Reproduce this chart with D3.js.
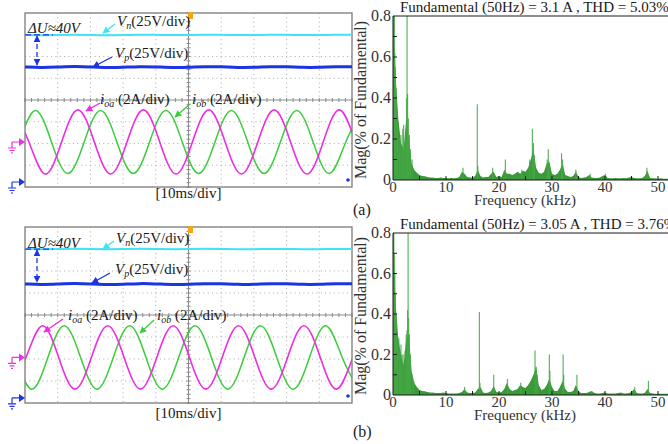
<!DOCTYPE html>
<html>
<head>
<meta charset="utf-8">
<script src="https://d3js.org/d3.v7.min.js"></script>
<style>
  body { margin: 0; background: #ffffff; }
  svg { display: block; font-family: "Liberation Serif", "Times New Roman", serif; }
</style>
</head>
<body>
<svg id="fig" width="668" height="444"></svg>
<script>
// ---- scope data (time in ms, voltages in V, currents in A) ----
var scopeTimes = [0,5,10,15,20,25,30,35,40,45,50,55,60,65,70,75,80,85,90,95,100];
var vnA = [169.0,168.7,169.1,169.4,169.1,168.7,169.0,169.4,169.2,168.8,169.0,169.3,169.2,168.8,168.9,169.3,169.2,168.8,168.9,169.3,169.2];
var vpA = [132.2,131.4,132.0,132.9,132.3,131.3,131.8,132.8,132.4,131.4,131.7,132.7,132.5,131.5,131.7,132.6,132.6,131.6,131.7,132.5,132.5];
var vnB = [169.2,168.9,169.3,169.5,169.2,168.9,169.1,169.5,169.3,168.9,169.1,169.5,169.3,168.9,169.0,169.4,169.3,168.9,169.0,169.4,169.3];
var vpB = [129.5,128.8,129.4,130.2,129.6,128.7,129.2,130.1,129.7,128.8,129.1,130.0,129.8,128.9,129.1,130.0,129.8,128.9,129.0,129.9,129.8];

// peaks, troughs and zero crossings: [ms, A]
var ioaA = [[-3.8,2.95],[1.2,0],[6.2,-2.95],[11.2,0],[16.2,2.95],[21.2,0],[26.2,-2.95],[31.2,0],[36.2,2.95],[41.2,0],[46.2,-2.95],[51.2,0],[56.2,2.95],[61.2,0],[66.2,-2.95],[71.2,0],[76.2,2.95],[81.2,0],[86.2,-2.95],[91.2,0],[96.2,2.95],[101.2,0],[106.2,-2.95]];
var iobA = [[-6.9,-2.9],[-1.9,0],[3.1,2.9],[8.1,0],[13.1,-2.9],[18.1,0],[23.1,2.9],[28.1,0],[33.1,-2.9],[38.1,0],[43.1,2.9],[48.1,0],[53.1,-2.9],[58.1,0],[63.1,2.9],[68.1,0],[73.1,-2.9],[78.1,0],[83.1,2.9],[88.1,0],[93.1,-2.9],[98.1,0],[103.1,2.9]];
var ioaB = [[-4.7,-2.88],[0.3,0],[5.3,2.88],[10.3,0],[15.3,-2.88],[20.3,0],[25.3,2.88],[30.3,0],[35.3,-2.88],[40.3,0],[45.3,2.88],[50.3,0],[55.3,-2.88],[60.3,0],[65.3,2.88],[70.3,0],[75.3,-2.88],[80.3,0],[85.3,2.88],[90.3,0],[95.3,-2.88],[100.3,0],[105.3,2.88]];
var iobB = [[-8,2.88],[-3,0],[2,-2.88],[7,0],[12,2.88],[17,0],[22,-2.88],[27,0],[32,2.88],[37,0],[42,-2.88],[47,0],[52,2.88],[57,0],[62,-2.88],[67,0],[72,2.88],[77,0],[82,-2.88],[87,0],[92,2.88],[97,0],[102,-2.88]];

// ---- spectrum data (kHz, % of fundamental) ----
var fftFreqs = d3.range(0, 52.01, 0.5);
var floorA = [0.80,0.50,0.30,0.18,0.15,0.30,0.20,0.08,0.05,0.035,
  0.025,0.02,0.018,0.015,0.012,0.012,0.01,0.01,0.012,0.01,
  0.01,0.008,0.01,0.008,0.01,0.015,0.04,0.03,0.015,0.012,
  0.012,0.02,0.05,0.02,0.012,0.015,0.015,0.03,0.04,0.015,
  0.02,0.015,0.05,0.03,0.03,0.025,0.03,0.04,0.03,0.045,
  0.04,0.06,0.10,0.15,0.06,0.035,0.03,0.04,0.08,0.09,
  0.03,0.025,0.03,0.05,0.08,0.025,0.02,0.015,0.02,0.04,
  0.015,0.01,0.012,0.015,0.025,0.012,0.01,0.01,0.012,0.02,
  0.025,0.01,0.008,0.008,0.01,0.008,0.008,0.01,0.008,0.012,
  0.015,0.01,0.008,0.008,0.01,0.02,0.045,0.01,0.008,0.008,
  0.006,0.008,0.006,0.006,0.006];
var floorB = [0.80,0.45,0.28,0.20,0.15,0.28,0.30,0.12,0.06,0.04,
  0.025,0.02,0.018,0.015,0.012,0.012,0.01,0.01,0.01,0.012,
  0.01,0.008,0.008,0.008,0.008,0.01,0.015,0.03,0.012,0.01,
  0.01,0.012,0.03,0.04,0.012,0.01,0.012,0.02,0.045,0.015,
  0.012,0.015,0.03,0.06,0.03,0.02,0.025,0.03,0.05,0.04,
  0.035,0.05,0.07,0.10,0.14,0.05,0.025,0.03,0.05,0.08,
  0.04,0.02,0.02,0.04,0.07,0.03,0.015,0.015,0.02,0.05,
  0.02,0.01,0.01,0.01,0.015,0.02,0.01,0.008,0.008,0.01,
  0.012,0.008,0.008,0.008,0.008,0.01,0.012,0.008,0.008,0.01,
  0.015,0.03,0.01,0.008,0.008,0.01,0.03,0.01,0.008,0.006,
  0.006,0.006,0.006,0.006,0.006];
var spikesA = [[0.05,0.85],[0.15,0.85],[0.25,0.8],[0.35,0.62],[0.45,0.55],[0.6,0.45],[0.75,0.35],[0.9,0.28],[1.1,0.2],[1.3,0.16],[1.5,0.22],[1.7,0.14],[1.85,0.25],[2.0,0.27],[2.2,0.18],[2.4,0.22],[2.55,0.4],[2.65,0.85],[2.75,0.42],[2.9,0.3],[3.1,0.22],[3.3,0.15],[3.6,0.1],
  [13.2,0.06],[15.9,0.37],[16.0,0.07],[18.8,0.06],[21.2,0.1],[24.3,0.05],[25.8,0.1],[26.3,0.25],[26.5,0.18],[26.7,0.12],[29.1,0.1],[29.3,0.15],[29.5,0.08],[31.8,0.13],[32.0,0.1],[34.5,0.05],[37.2,0.03],[40.1,0.03],[47.9,0.06]];
var spikesB = [[0.05,0.85],[0.15,0.82],[0.25,0.7],[0.35,0.6],[0.45,0.5],[0.6,0.4],[0.75,0.3],[0.9,0.26],[1.1,0.28],[1.3,0.22],[1.5,0.25],[1.7,0.2],[1.9,0.2],[2.1,0.15],[2.3,0.22],[2.5,0.3],[2.65,0.32],[2.75,0.42],[2.85,0.85],[2.95,0.38],[3.1,0.3],[3.3,0.2],[3.6,0.1],[3.9,0.07],
  [13.5,0.04],[16.3,0.41],[16.4,0.06],[19.0,0.1],[21.6,0.08],[24.1,0.06],[26.8,0.22],[27.0,0.14],[27.2,0.1],[29.5,0.2],[29.6,0.12],[32.1,0.2],[32.2,0.1],[34.7,0.1],[45.6,0.04],[48.2,0.07]];

var fftTitles = ['Fundamental (50Hz) = 3.1 A , THD = 5.03%', 'Fundamental (50Hz) = 3.05 A , THD = 3.76%'];
var magTicks = [0, 0.2, 0.4, 0.6, 0.8];
var freqTicks = [0, 10, 20, 30, 40, 50];

// ---- layout ----
var svg = d3.select('#fig');
var ink = '#1a1a1a';
var col = { vn: '#3fe3f2', vp: '#1c33e6', ioa: '#ee2ee0', iob: '#3ccd3c', trig: '#f2a81e' };
var chV = { perDiv: 25, ground: -3.77 }, chI = { perDiv: 2, ground: -1.93 };

var panels = [
  { top: 13, bottom: 187, vn: vnA, vp: vpA, ioa: ioaA, iob: iobA,
    floor: floorA, spikes: spikesA, title: fftTitles[0], fTop: 16, fBottom: 180, tag: '(a)', tagY: 215,
    du: { tx: 28, ty: 33 }, vnL: [117, 26, 115, 24, 103, 33], vpL: [115, 58, 112, 57, 93, 67],
    ioaL: [100, 104, 100, 103, 86, 111], iobL: [192, 104, 190, 104, 175, 117], divY: 198 },
  { top: 227, bottom: 403, vn: vnB, vp: vpB, ioa: ioaB, iob: iobB,
    floor: floorB, spikes: spikesB, title: fftTitles[1], fTop: 233, fBottom: 395, tag: '(b)', tagY: 437,
    du: { tx: 28, ty: 248 }, vnL: [116, 243, 114, 241, 103, 249], vpL: [115, 274, 110, 273, 92, 283],
    ioaL: [68, 320, 63, 319, 44, 332], iobL: [157, 320, 154, 320, 140, 333], divY: 418 }
];

// arrowheads
var defs = svg.append('defs');
Object.keys(col).forEach(function(k) {
  defs.append('marker').attr('id', 'ah-' + k)
    .attr('viewBox', '0 0 10 10').attr('refX', 9).attr('refY', 5)
    .attr('markerWidth', 7).attr('markerHeight', 7).attr('markerUnits', 'userSpaceOnUse')
    .attr('orient', 'auto-start-reverse')
    .append('path').attr('d', 'M0,0 L10,5 L0,10 z').attr('fill', col[k]);
});

panels.forEach(function(p, pi) {
  var x = d3.scaleLinear().domain([0, 100]).range([25, 352]);
  var y = d3.scaleLinear().domain([-4, 4]).range([p.bottom, p.top]);
  var yV = function(v) { return y(chV.ground + v / chV.perDiv); };
  var yI = function(v) { return y(chI.ground + v / chI.perDiv); };
  var g = svg.append('g');

  defs.append('clipPath').attr('id', 'scope' + pi)
    .append('rect').attr('x', 25).attr('y', p.top).attr('width', 327).attr('height', p.bottom - p.top);

  // grid
  var grid = g.append('g').attr('stroke', '#aaaaaa').attr('stroke-dasharray', '1,3.35');
  d3.range(10, 100, 10).filter(function(t) { return t !== 50; }).forEach(function(t) {
    grid.append('line').attr('x1', x(t)).attr('x2', x(t)).attr('y1', p.top).attr('y2', p.bottom);
  });
  [-3, -2, -1, 1, 2, 3].forEach(function(d) {
    grid.append('line').attr('x1', 25).attr('x2', 352).attr('y1', y(d)).attr('y2', y(d));
  });
  g.append('line').attr('x1', x(50)).attr('x2', x(50)).attr('y1', p.top).attr('y2', p.bottom).attr('stroke', '#8a8a8a');
  g.append('line').attr('x1', 25).attr('x2', 352).attr('y1', y(0)).attr('y2', y(0)).attr('stroke', '#8a8a8a');
  d3.range(-4, 4.01, 0.2).forEach(function(d) {
    g.append('line').attr('x1', x(50) - 2).attr('x2', x(50) + 2).attr('y1', y(d)).attr('y2', y(d)).attr('stroke', '#8a8a8a');
  });
  d3.range(0, 100.1, 2).forEach(function(t) {
    g.append('line').attr('x1', x(t)).attr('x2', x(t)).attr('y1', y(0) - 2).attr('y2', y(0) + 2).attr('stroke', '#8a8a8a');
  });
  g.append('rect').attr('x', 25).attr('y', p.top).attr('width', 327).attr('height', p.bottom - p.top)
    .attr('fill', 'none').attr('stroke', '#7a7a7a').attr('stroke-width', 1.3);

  // traces
  var tr = g.append('g').attr('clip-path', 'url(#scope' + pi + ')').attr('fill', 'none');
  var vLine = d3.line().x(function(d, i) { return x(scopeTimes[i]); }).curve(d3.curveBasis);
  tr.append('path').attr('d', vLine.y(function(d) { return yV(d); })(p.vn)).attr('stroke', col.vn).attr('stroke-width', 2);
  tr.append('path').attr('d', vLine.y(function(d) { return yV(d); })(p.vp)).attr('stroke', col.vp).attr('stroke-width', 3);
  var iLine = d3.line().x(function(d) { return x(d[0]); }).y(function(d) { return yI(d[1]); }).curve(d3.curveNatural);
  tr.append('path').attr('d', iLine(p.iob)).attr('stroke', col.iob).attr('stroke-width', 1.5);
  tr.append('path').attr('d', iLine(p.ioa)).attr('stroke', col.ioa).attr('stroke-width', 1.6);

  // markers
  g.append('rect').attr('x', 188).attr('y', p.top - 1).attr('width', 5).attr('height', 7).attr('fill', col.trig);
  g.append('circle').attr('cx', 348).attr('cy', yV(0) - 2).attr('r', 1.8).attr('fill', col.vp);
  [[yI(0), col.ioa], [yV(0), col.vp]].forEach(function(m) {
    var my = m[0];
    g.append('path').attr('d', 'M19,' + (my - 4) + ' L25,' + my + ' L19,' + (my + 4) + ' z').attr('fill', m[1]);
    g.append('path').attr('fill', 'none').attr('stroke', m[1]).attr('stroke-width', 1.2)
      .attr('d', 'M12,' + my + ' H19 M12,' + my + ' V' + (my + 6) + ' M8,' + (my + 6) + ' H16 M9.5,' + (my + 8.5) + ' H14.5 M11,' + (my + 11) + ' H13');
  });

  // annotations
  var yTop = yV(p.vn[0]), yBot = yV(p.vp[0]);
  g.append('line').attr('x1', 25).attr('x2', 53).attr('y1', yTop).attr('y2', yTop)
    .attr('stroke', col.vp).attr('stroke-width', 1.3).attr('stroke-dasharray', '6,3');
  g.append('line').attr('x1', 37).attr('x2', 37).attr('y1', yTop + 1).attr('y2', yBot - 2)
    .attr('stroke', col.vp).attr('stroke-width', 1.3).attr('stroke-dasharray', '5,3')
    .attr('marker-start', 'url(#ah-vp)').attr('marker-end', 'url(#ah-vp)');
  g.append('text').attr('x', p.du.tx).attr('y', p.du.ty).attr('font-size', 15).attr('font-style', 'italic').attr('fill', ink)
    .text('\u0394U\u224840V');

  function label(L, sym, sub, rest, key) {
    var t = g.append('text').attr('x', L[0]).attr('y', L[1]).attr('font-size', 15).attr('fill', ink);
    t.append('tspan').attr('font-style', 'italic').text(sym);
    t.append('tspan').attr('font-style', 'italic').attr('font-size', 10).attr('dy', 3).text(sub);
    t.append('tspan').attr('dy', -3).text(rest);
    g.append('line').attr('x1', L[2]).attr('y1', L[3]).attr('x2', L[4]).attr('y2', L[5])
      .attr('stroke', col[key]).attr('stroke-width', 1.4).attr('marker-end', 'url(#ah-' + key + ')');
  }
  label(p.vnL, 'V', 'n', '(25V/div)', 'vn');
  label(p.vpL, 'V', 'p', '(25V/div)', 'vp');
  label(p.ioaL, 'i', 'oa', ' (2A/div)', 'ioa');
  label(p.iobL, 'i', 'ob', ' (2A/div)', 'iob');

  g.append('text').attr('x', x(50)).attr('y', p.divY).attr('text-anchor', 'middle').attr('font-size', 15).attr('fill', ink)
    .text('[10ms/div]');

  // ---- spectrum ----
  var fx = d3.scaleLinear().domain([0, 52]).range([393, 668.6]);
  var fy = d3.scaleLinear().domain([0, 0.8]).range([p.fBottom, p.fTop]);
  var f = svg.append('g');
  defs.append('clipPath').attr('id', 'fft' + pi)
    .append('rect').attr('x', 393).attr('y', p.fTop).attr('width', 280).attr('height', p.fBottom - p.fTop);
  var bars = f.append('g').attr('clip-path', 'url(#fft' + pi + ')');
  bars.append('path').datum(p.floor)
    .attr('d', d3.area().x(function(d, i) { return fx(fftFreqs[i]); }).y0(fy(0)).y1(function(d) { return fy(d); }))
    .attr('fill', '#3a9a3a');
  bars.selectAll('line.spk').data(p.spikes).enter().append('line').attr('class', 'spk')
    .attr('x1', function(d) { return fx(d[0]); }).attr('x2', function(d) { return fx(d[0]); })
    .attr('y1', fy(0)).attr('y2', function(d) { return fy(d[1]); })
    .attr('stroke', '#45a845').attr('stroke-width', 1.2).attr('opacity', 0.85);

  var ax = f.append('g').attr('stroke', ink).attr('fill', 'none');
  ax.append('path').attr('d', 'M668,' + p.fTop + ' H393 V' + p.fBottom + ' H668');
  d3.range(0.1, 0.8, 0.1).forEach(function(v) {
    ax.append('line').attr('x1', 393).attr('x2', 397).attr('y1', fy(v)).attr('y2', fy(v));
  });
  d3.range(5, 52, 5).forEach(function(v) {
    ax.append('line').attr('x1', fx(v)).attr('x2', fx(v)).attr('y1', p.fBottom).attr('y2', p.fBottom - 4);
  });
  f.selectAll('text.my').data(magTicks).enter().append('text').attr('class', 'my')
    .attr('x', 391).attr('y', function(d) { return fy(d) + 5; }).attr('text-anchor', 'end')
    .attr('font-size', 16).attr('fill', '#333')
    .text(function(d) { return d === 0 ? '0' : d3.format('.1f')(d); });
  f.selectAll('text.fx').data(freqTicks).enter().append('text').attr('class', 'fx')
    .attr('x', function(d) { return fx(d); }).attr('y', p.fBottom + 12).attr('text-anchor', 'middle')
    .attr('font-size', 15).attr('fill', '#333').text(function(d) { return d; });
  f.append('text').attr('x', 525).attr('y', p.fBottom + 24.5).attr('text-anchor', 'middle')
    .attr('font-size', 15).attr('fill', '#333').text('Frequency (kHz)');
  f.append('text').attr('x', 400).attr('y', p.fTop - 4).attr('font-size', 15).attr('fill', ink).text(p.title);
  f.append('text').attr('transform', 'translate(366,' + ((p.fTop + p.fBottom) / 2 + 2) + ') rotate(-90)')
    .attr('text-anchor', 'middle').attr('font-size', 16).attr('fill', '#333').text('Mag(% of Fundamental)');
  svg.append('text').attr('x', 353).attr('y', p.tagY).attr('font-size', 16).attr('fill', ink).text(p.tag);
});
</script>
</body>
</html>
